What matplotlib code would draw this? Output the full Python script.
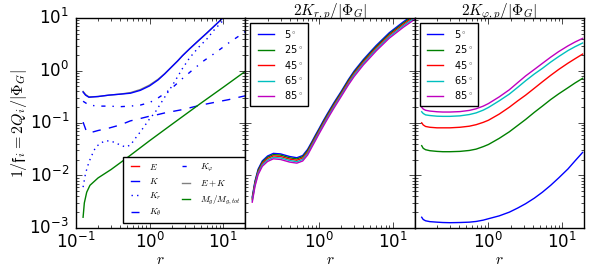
import matplotlib
matplotlib.use("Agg")
import matplotlib.pyplot as plt
from matplotlib.ticker import LogLocator, NullFormatter

plt.style.use('classic')
plt.rcParams['mathtext.fontset'] = 'cm'
plt.rcParams['font.family'] = ['DejaVu Sans']

# ---------------- Panel 1 data ----------------
r_E = []
E_vals = []

r_K = [0.125, 0.135, 0.15, 0.2, 0.28, 0.4, 0.55, 0.75, 1.0, 1.3, 1.6, 2.0, 2.4, 2.8, 3.5, 4.5, 6.0, 8.0, 10, 12]
K_vals = [0.39, 0.34, 0.31, 0.32, 0.34, 0.355, 0.37, 0.42, 0.51, 0.66, 0.86, 1.18, 1.52, 1.92, 2.6, 3.6, 5.2, 7.6, 10.2, 12.8]

r_EK = [0.125, 0.135, 0.15, 0.2, 0.28, 0.4, 0.55, 0.75, 1.0, 1.3, 1.6, 2.0, 2.4, 2.8, 3.5, 4.5, 6.0, 8.0, 10, 12]
EK_vals = [0.40, 0.35, 0.315, 0.32, 0.34, 0.356, 0.38, 0.435, 0.53, 0.68, 0.87, 1.18, 1.52, 1.92, 2.6, 3.6, 5.2, 7.6, 10.2, 12.8]

r_Kr = [0.125, 0.135, 0.15, 0.17, 0.186, 0.22, 0.254, 0.3, 0.345, 0.4, 0.47, 0.55, 0.64, 0.75, 0.87,
        1.0, 1.19, 1.4, 1.67, 2.0, 2.4, 2.78, 3.5, 4.66, 6.0, 7.5, 10.7, 12]
Kr_vals = [0.006, 0.011, 0.018, 0.027, 0.035, 0.042, 0.046, 0.045, 0.042, 0.038, 0.035, 0.038, 0.051, 0.068, 0.091,
           0.12, 0.16, 0.23, 0.34, 0.5, 0.76, 1.08, 1.75, 2.8, 4.0, 5.9, 10, 12]

r_Kth = [0.125, 0.14, 0.16, 0.2, 0.28, 0.4, 0.55, 0.75, 1.0, 1.3, 1.58, 2.78, 5, 7.9, 12, 18, 20]
Kth_vals = [0.104, 0.067, 0.066, 0.072, 0.08, 0.092, 0.11, 0.122, 0.135, 0.145, 0.155, 0.18, 0.22, 0.25, 0.28, 0.32, 0.33]

r_Kph = [0.125, 0.15, 0.2, 0.28, 0.4, 0.55, 0.75, 1.0, 1.3, 1.58, 2.0, 2.78, 4.0, 5.5, 7.9, 12, 18.8, 20]
Kph_vals = [0.26, 0.22, 0.21, 0.21, 0.205, 0.21, 0.22, 0.245, 0.3, 0.36, 0.46, 0.70, 1.08, 1.55, 2.2, 3.4, 5.2, 5.6]

r_Mg = [0.125, 0.13, 0.14, 0.155, 0.2, 0.3, 0.5, 1.0, 2.0, 5.0, 10, 20]
Mg_vals = [0.0016, 0.003, 0.0048, 0.0065, 0.009, 0.013, 0.022, 0.046, 0.094, 0.24, 0.48, 0.97]

# ---------------- Panel 2 data: 2K_{r,p}/|Phi_G| ----------------
angles = ["5$^\\circ$", "25$^\\circ$", "45$^\\circ$", "65$^\\circ$", "85$^\\circ$"]
r_p2 = [0.124, 0.135, 0.149, 0.17, 0.2, 0.24, 0.3, 0.4, 0.5, 0.6, 0.7, 0.8, 0.9, 1.0, 1.15, 1.3, 1.6, 2.0,
        2.5, 3.0, 4.0, 5.0, 6.0, 9.0, 14, 20]
Krp_5 = [0.0039, 0.0078, 0.0132, 0.019, 0.0235, 0.0264, 0.0258, 0.023, 0.0218, 0.0240, 0.0315, 0.044, 0.0600, 0.078,
         0.112, 0.151, 0.246, 0.40, 0.67, 0.98, 1.62, 2.29, 3.02, 5.26, 8.5, 12.1]
Krp_25 = [0.0037, 0.0074, 0.0125, 0.018, 0.0223, 0.0250, 0.0245, 0.0217, 0.0207, 0.0228, 0.0298, 0.0418, 0.0568, 0.074,
          0.106, 0.143, 0.233, 0.38, 0.64, 0.93, 1.54, 2.17, 2.86, 4.98, 8.05, 11.5]
Krp_45 = [0.0035, 0.007, 0.0118, 0.017, 0.021, 0.0236, 0.023, 0.0205, 0.0195, 0.0215, 0.028, 0.0395, 0.0535, 0.070,
          0.10, 0.135, 0.22, 0.36, 0.60, 0.88, 1.45, 2.05, 2.7, 4.7, 7.6, 10.8]
Krp_65 = [0.0033, 0.0066, 0.0111, 0.016, 0.0197, 0.0221, 0.0216, 0.0193, 0.0183, 0.0202, 0.0263, 0.0371, 0.0503, 0.066,
          0.094, 0.127, 0.207, 0.34, 0.56, 0.83, 1.36, 1.93, 2.54, 4.42, 7.15, 10.2]
Krp_85 = [0.0031, 0.0062, 0.0104, 0.015, 0.0185, 0.0208, 0.0202, 0.018, 0.0172, 0.0189, 0.0246, 0.0348, 0.0471, 0.062,
          0.088, 0.119, 0.194, 0.32, 0.53, 0.77, 1.28, 1.80, 2.38, 4.14, 6.7, 9.5]

# ---------------- Panel 3 data: 2K_{phi,p}/|Phi_G| ----------------
r_p3 = [0.124, 0.13, 0.14, 0.16, 0.2, 0.24, 0.3, 0.41, 0.55, 0.68, 0.85, 1.0, 1.4, 1.92, 2.5, 3.2, 4.2, 5.4,
        7, 9, 12, 15, 19]
Kpp_5 = [0.0016, 0.00145, 0.00137, 0.00132, 0.00129, 0.00127, 0.00126, 0.00127, 0.00129, 0.00133, 0.00141, 0.0015,
         0.0017, 0.0020, 0.0024, 0.0029, 0.0037, 0.0048, 0.0065, 0.0090, 0.0133, 0.019, 0.0275]
Kpp_25 = [0.037, 0.033, 0.031, 0.0297, 0.0288, 0.0284, 0.0284, 0.0288, 0.030, 0.0318, 0.0355, 0.039,
          0.051, 0.068, 0.09, 0.117, 0.16, 0.21, 0.28, 0.36, 0.47, 0.58, 0.71]
Kpp_45 = [0.101, 0.092, 0.086, 0.083, 0.081, 0.081, 0.081, 0.083, 0.087, 0.093, 0.103, 0.113,
          0.148, 0.20, 0.265, 0.34, 0.46, 0.61, 0.81, 1.05, 1.38, 1.68, 2.06]
Kpp_65 = [0.164, 0.152, 0.143, 0.139, 0.135, 0.134, 0.134, 0.137, 0.145, 0.156, 0.176, 0.198,
          0.265, 0.356, 0.48, 0.64, 0.86, 1.1, 1.45, 1.85, 2.4, 2.85, 3.35]
Kpp_85 = [0.20, 0.185, 0.175, 0.169, 0.164, 0.162, 0.162, 0.165, 0.174, 0.187, 0.21, 0.235,
          0.315, 0.43, 0.59, 0.79, 1.05, 1.37, 1.8, 2.3, 2.95, 3.5, 4.1]

colors = ['b', 'g', 'r', 'c', 'm']

fig = plt.figure(figsize=(5.98, 2.66), dpi=100, facecolor='white')
axs = []
left, right, bottom, top = 0.127, 0.977, 0.143, 0.932
w = (right - left) / 3
for i in range(3):
    ax = fig.add_axes([left + i * w, bottom, w, top - bottom], sharey=axs[0] if axs else None)
    ax.set_facecolor('white')
    axs.append(ax)

ax1, ax2, ax3 = axs
lw = 1.0
ax1.plot(r_E, E_vals, 'r-', lw=lw, label='$E$')
ax1.plot(r_EK, EK_vals, '-', color='gray', lw=lw, zorder=1.9)
ax1.plot(r_K, K_vals, 'b-', lw=lw, label='$K$')
ax1.plot(r_Kr, Kr_vals, 'b:', lw=lw, label='$K_r$')
ax1.plot(r_Kth, Kth_vals, 'b--', lw=lw, label='$K_\\theta$')
ax1.plot(r_Kph, Kph_vals, 'b-.', lw=lw, label='$K_\\varphi$')
ax1.plot([], [], '-', color='gray', lw=lw, label='$E+K$')
ax1.plot(r_Mg, Mg_vals, 'g-', lw=lw, label='$M_g/M_{g,tot}$')

for vals, c, lab in zip([Krp_5, Krp_25, Krp_45, Krp_65, Krp_85], colors, angles):
    ax2.plot(r_p2, vals, '-', color=c, lw=lw, label=lab)
for vals, c, lab in zip([Kpp_5, Kpp_25, Kpp_45, Kpp_65, Kpp_85], colors, angles):
    ax3.plot(r_p3, vals, '-', color=c, lw=lw, label=lab)

for i, ax in enumerate(axs):
    ax.set_xscale('log')
    ax.set_yscale('log')
    ax.set_xlim(0.1, 20)
    ax.set_ylim(1e-3, 10)
    ax.set_xlabel('$r$', fontsize=11, labelpad=0)
    ax.tick_params(which='both', direction='in', top=True, right=True, labelsize=12)
    ax.tick_params(which='major', length=4)
    ax.tick_params(axis='x', which='major', pad=3)
    ax.tick_params(axis='y', which='major', pad=5)
    ax.tick_params(which='minor', length=2)
    if i > 0:
        ax.tick_params(labelleft=False)
        ax.set_xticks([1, 10])
        ax.xaxis.set_minor_locator(LogLocator(base=10, subs=range(2, 10)))
        ax.xaxis.set_minor_formatter(NullFormatter())
    else:
        ax.set_xticks([0.1, 1, 10])

ax1.set_ylabel('$1/\\mathfrak{f}_i = 2Q_i/|\\Phi_G|$', fontsize=11.5, labelpad=0)
ax2.set_title('$2K_{r,p}/|\\Phi_G|$', fontsize=11, pad=2)
ax3.set_title('$2K_{\\varphi,p}/|\\Phi_G|$', fontsize=11, pad=2)

ax1.legend(loc='lower right', ncol=2, fontsize=6.5, handlelength=1.5, columnspacing=2.0,
           borderpad=0.5, labelspacing=0.5, frameon=True, fancybox=False,
           bbox_to_anchor=(1.0, 0.025), borderaxespad=0.0)
for ax in (ax2, ax3):
    ax.legend(loc='upper left', fontsize=7, handlelength=2.2, borderpad=0.5, labelspacing=0.35,
              frameon=True, fancybox=False)

fig.savefig('out.png', dpi=100, facecolor='white')
